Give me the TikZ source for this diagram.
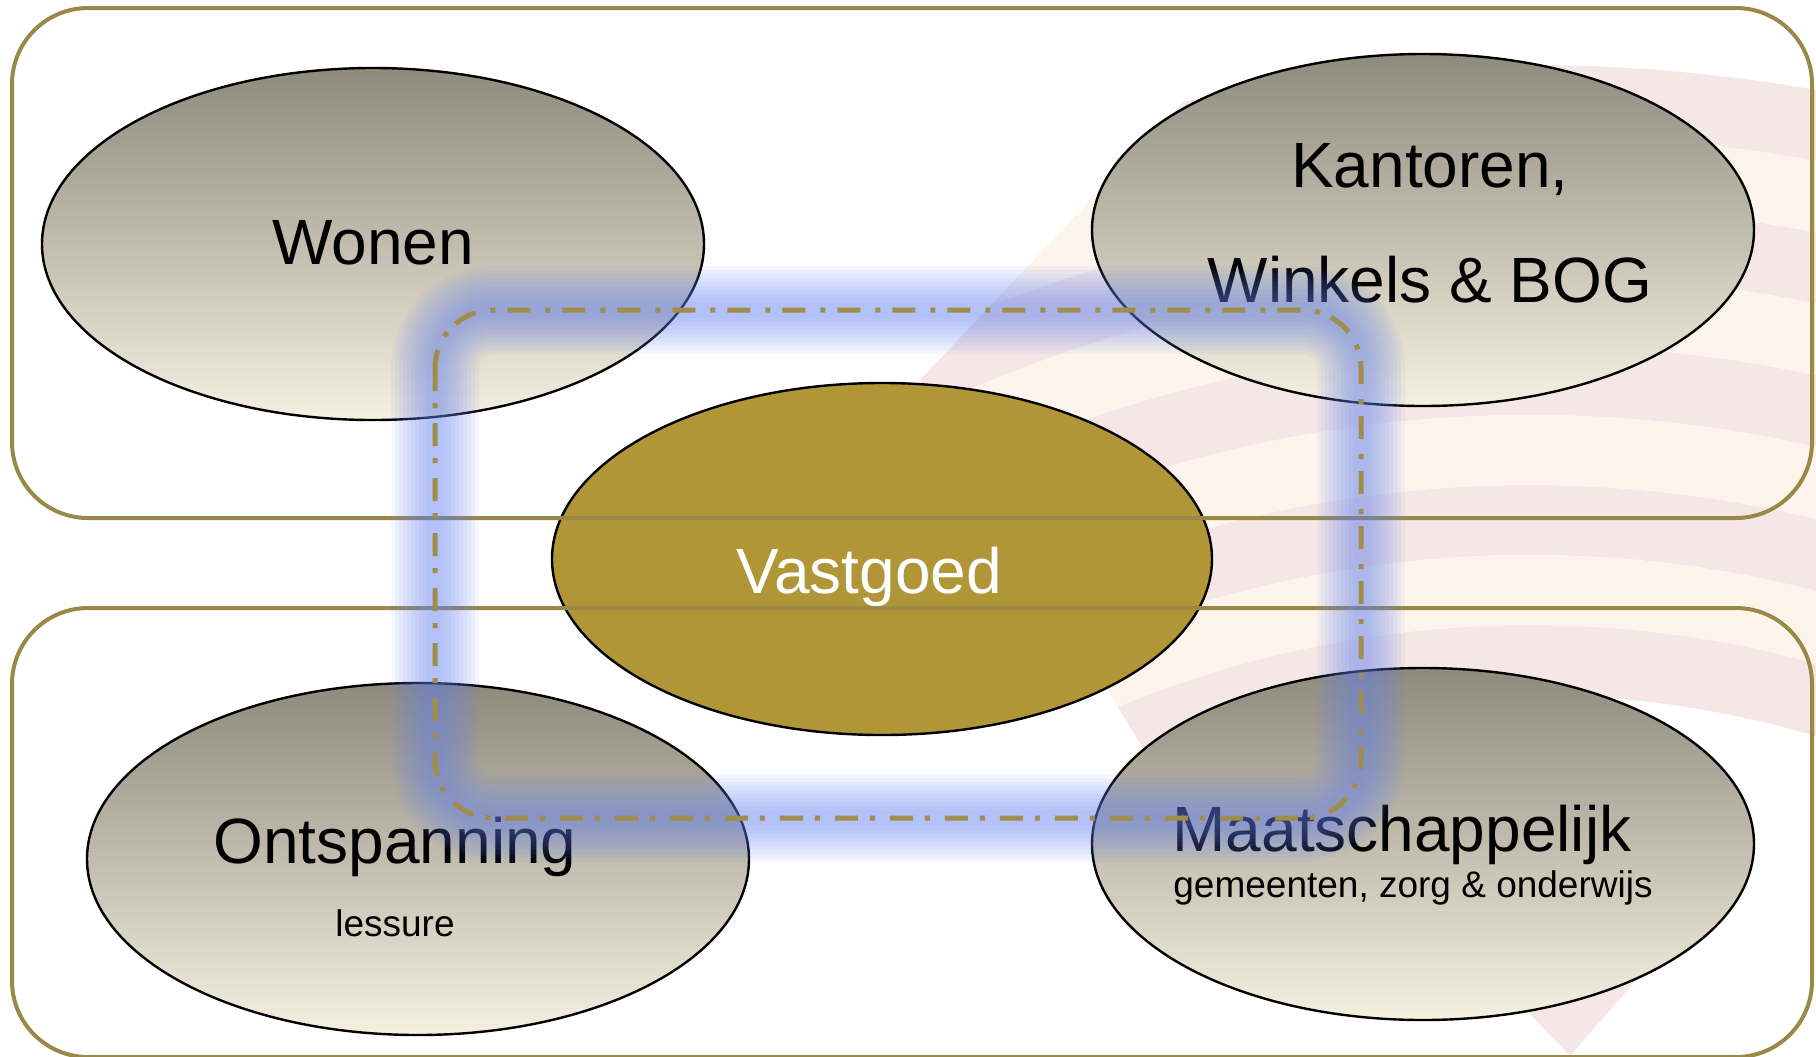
\documentclass[tikz,border=0pt]{standalone}
\usepackage{fontspec}
\setmainfont{Liberation Sans}
\usetikzlibrary{shapes.geometric}

\definecolor{frame}{RGB}{154,136,72}
\definecolor{ellTop}{RGB}{142,138,124}
\definecolor{ellBot}{RGB}{245,240,224}
\definecolor{gold}{RGB}{176,150,54}
\definecolor{dashgold}{RGB}{160,140,75}
\definecolor{glowblue}{RGB}{100,130,240}
\definecolor{markpink}{RGB}{246,231,231}
\definecolor{markcream}{RGB}{253,245,235}

\tikzset{
  sector/.style={ellipse, draw=black, line width=1.2pt, top color=ellTop, bottom color=ellBot,
    minimum width=331pt, minimum height=176pt, inner sep=0pt},
  hubnode/.style={ellipse, draw=black, line width=1.2pt, fill=gold,
    minimum width=330pt, minimum height=176pt, inner sep=0pt},
  biglbl/.style={anchor=base, inner sep=0pt, font=\fontsize{32}{38}\selectfont},
  smalllbl/.style={anchor=base, inner sep=0pt, font=\fontsize{18.5}{22}\selectfont},
  band/.style={rounded corners=38pt, draw=frame, line width=2pt},
  glow/.style={rounded corners=29pt, draw=glowblue, opacity=0.065},
  ring/.style={rounded corners=29pt, draw=dashgold, line width=2.5pt,
    dash pattern=on 11.5pt off 6pt on 2.5pt off 7.5pt},
}

\begin{document}
\begin{tikzpicture}[x=0.5pt, y=-0.5pt]
    \useasboundingbox (0,0) rectangle (1816,1056);
    \clip (0,0) rectangle (1816,1056);
    % faint logo in the background
    \begin{scope}
    \clip (1280,0) -- (1816,0) -- (1816,760) -- (1150,760) -- (920,380) -- cycle;
    \foreach \r in {1040,1180,...,1600}
        \draw[markpink, line width=35pt] (1530,1700) circle[radius=\r];
    \foreach \r in {1110,1250,...,1530}
        \draw[markcream, line width=35pt] (1530,1700) circle[radius=\r];
    \end{scope}
    \fill[markpink] (1450,930) -- (1680,930) -- (1570,1056) -- cycle;

    % the five fields
    \node[sector] (wonen) at (373,244) {};
    \node[sector] (kantoren) at (1423,230) {};
    \node[sector] (ontspanning) at (418,859) {};
    \node[sector] (maatsch) at (1423,844) {};
    \node[hubnode] (vastgoed) at (882,559) {};

    \node[biglbl] (wonenlbl) at (373,264) {Wonen};
    \node[biglbl] (kantorenlbl) at (1430,187) {Kantoren,};
    \node[biglbl] (winkelslbl) at (1430,302) {Winkels \& BOG};
    \node[biglbl, text=white] (vastgoedlbl) at (869,593) {Vastgoed};
    \node[biglbl] (ontspanninglbl) at (395,863) {Ontspanning};
    \node[smalllbl] (lessurelbl) at (395,936) {lessure};
    \node[biglbl] (maatschlbl) at (1402,851) {Maatschappelijk};
    \node[smalllbl] (gemeentenlbl) at (1413,897) {gemeenten, zorg \& onderwijs};

    % two frames
    \draw[band] (12,8) rectangle (1812,518);
    \draw[band] (12,608) rectangle (1812,1057);

    % glowing loop
    \foreach \w in {44,40,...,8}
        \draw[glow, line width=\w pt] (435,310) rectangle (1361,818);
    \draw[ring] (435,310) rectangle (1361,818);
\end{tikzpicture}
\end{document}
